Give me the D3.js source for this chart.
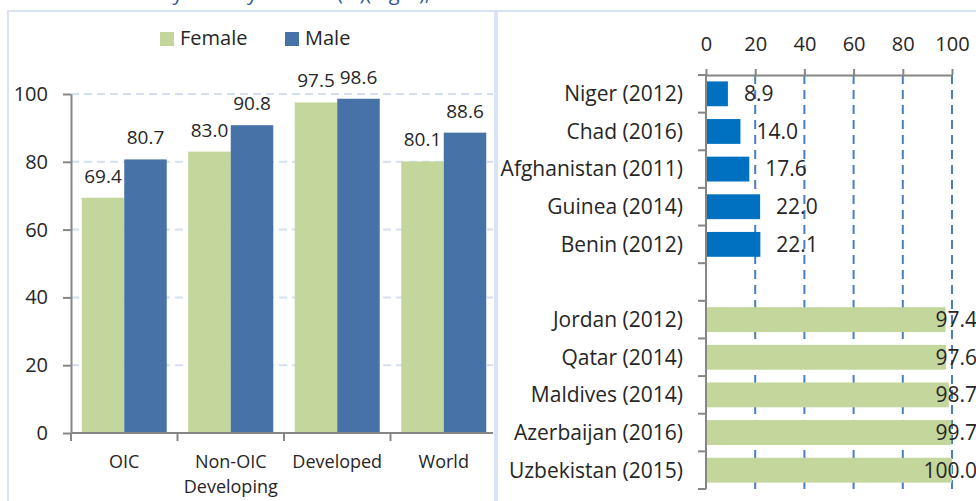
<!DOCTYPE html>
<html>
<head>
<meta charset="utf-8">
<script src="https://cdn.jsdelivr.net/npm/d3@7"></script>
<style>
  body { margin: 0; background: #fff; }
  text { font-family: "Open Sans", "Noto Sans", sans-serif; fill: #262626; }
</style>
</head>
<body>
<script>
// left chart: literacy rate by gender
var groups = ["OIC", "Non-OIC Developing", "Developed", "World"];
var genders = ["Female", "Male"];
var female = [69.4, 83.0, 97.5, 80.1];
var male = [80.7, 90.8, 98.6, 88.6];
var leftTicks = [0, 20, 40, 60, 80, 100];

// right chart: lowest and highest countries
var lowCountries = ["Niger (2012)", "Chad (2016)", "Afghanistan (2011)", "Guinea (2014)", "Benin (2012)"];
var lowValues = [8.9, 14.0, 17.6, 22.0, 22.1];
var highCountries = ["Jordan (2012)", "Qatar (2014)", "Maldives (2014)", "Azerbaijan (2016)", "Uzbekistan (2015)"];
var highValues = [97.4, 97.6, 98.7, 99.7, 100.0];
var rightTicks = [0, 20, 40, 60, 80, 100];

var width = 976, height = 501;
var colors = { Female: "#c3d69b", Male: "#4672a8" };
var lowColor = "#0070c0", highColor = "#c3d69b";
var axisColor = "#868686";
var panelColor = "#dae3f3";

var svg = d3.select("body").append("svg")
  .attr("width", width)
  .attr("height", height);

// cropped title at the very top
svg.append("text")
  .attr("x", 430)
  .attr("y", 0)
  .attr("text-anchor", "end")
  .style("font-size", "20px")
  .style("fill", "#2f5597")
  .text("Adult Literacy Rate by Gender (%)(Right),");

// panel borders
svg.append("path")
  .attr("d", "M8,512 V11 H495 V512")
  .attr("fill", "none")
  .attr("stroke", panelColor)
  .attr("stroke-width", 2);
svg.append("path")
  .attr("d", "M497,512 V11 H990")
  .attr("fill", "none")
  .attr("stroke", panelColor)
  .attr("stroke-width", 2);

// ---------- left chart ----------
var leftData = groups.map(function(g, i) {
  return { group: g, Female: female[i], Male: male[i] };
});

var yL = d3.scaleLinear().domain([0, 100]).range([433, 94]);
var x0 = d3.scaleBand().domain(groups).range([71, 497]).padding(0);
var x1 = d3.scaleBand().domain(genders).range([0, x0.bandwidth()])
  .paddingInner(0).paddingOuter(0.253);

var left = svg.append("g");

left.selectAll(".gridL")
  .data(leftTicks.filter(function(d) { return d > 0; }))
  .enter().append("line")
  .attr("x1", 71).attr("x2", 493)
  .attr("y1", yL).attr("y2", yL)
  .attr("stroke", "#d3def0")
  .attr("stroke-width", 2)
  .attr("stroke-dasharray", "8,5");

var groupSel = left.selectAll(".grp")
  .data(leftData)
  .enter().append("g")
  .attr("transform", function(d) { return "translate(" + x0(d.group) + ",0)"; });

groupSel.selectAll("rect")
  .data(function(d) { return genders.map(function(k) { return { key: k, value: d[k] }; }); })
  .enter().append("rect")
  .attr("x", function(d) { return x1(d.key); })
  .attr("width", x1.bandwidth())
  .attr("y", function(d) { return yL(d.value); })
  .attr("height", function(d) { return yL(0) - yL(d.value); })
  .attr("fill", function(d) { return colors[d.key]; });

groupSel.selectAll(".lbl")
  .data(function(d) { return genders.map(function(k) { return { key: k, value: d[k] }; }); })
  .enter().append("text")
  .attr("x", function(d) { return x1(d.key) + x1.bandwidth() / 2; })
  .attr("y", function(d) { return yL(d.value) - 15; })
  .attr("text-anchor", "middle")
  .style("font-size", "19px")
  .text(function(d) { return d.value.toFixed(1); });

var yAxisL = left.append("g")
  .attr("transform", "translate(71,0)")
  .call(d3.axisLeft(yL).tickValues(leftTicks).tickSize(8).tickSizeOuter(0).tickPadding(15));
yAxisL.select(".domain").attr("stroke", axisColor).attr("stroke-width", 2);
yAxisL.selectAll(".tick line").attr("stroke", axisColor).attr("stroke-width", 2);
yAxisL.selectAll(".tick text")
  .style("font-size", "20px")
  .style("font-family", "'Open Sans', sans-serif")
  .attr("fill", "#262626");

// x axis line with ticks between groups
left.append("line")
  .attr("x1", 71).attr("x2", 493)
  .attr("y1", yL(0)).attr("y2", yL(0))
  .attr("stroke", axisColor).attr("stroke-width", 2);
left.selectAll(".xtick")
  .data(groups)
  .enter().append("line")
  .attr("x1", function(d) { return x0(d); })
  .attr("x2", function(d) { return x0(d); })
  .attr("y1", yL(0)).attr("y2", yL(0) + 8)
  .attr("stroke", axisColor).attr("stroke-width", 2);

// category labels, wrapped when wider than the band
left.selectAll(".cat")
  .data(groups)
  .enter().append("text")
  .attr("x", function(d) { return x0(d) + x0.bandwidth() / 2; })
  .attr("y", yL(0) + 35)
  .attr("text-anchor", "middle")
  .style("font-size", "18px")
  .each(function(d) {
    var t = d3.select(this);
    t.text(d);
    if (this.getComputedTextLength() > x0.bandwidth() - 6) {
      t.text(null);
      var x = t.attr("x");
      d.split(" ").forEach(function(w, i) {
        t.append("tspan").attr("x", x).attr("dy", i === 0 ? 0 : 25).text(w);
      });
    }
  });

// legend
var legend = svg.append("g");
var legendX = [160, 285];
genders.forEach(function(g, i) {
  legend.append("rect")
    .attr("x", legendX[i]).attr("y", 32)
    .attr("width", 14).attr("height", 14)
    .attr("fill", colors[g]);
  legend.append("text")
    .attr("x", legendX[i] + 20).attr("y", 45)
    .style("font-size", "20px")
    .text(g);
});

// ---------- right chart ----------
var rightData = lowCountries.map(function(c, i) {
  return { name: c, value: lowValues[i], color: lowColor };
}).concat([{ name: "", value: null }]).concat(highCountries.map(function(c, i) {
  return { name: c, value: highValues[i], color: highColor };
}));

var xR = d3.scaleLinear().domain([0, 100]).range([706, 952]);
var yR = d3.scaleBand()
  .domain(rightData.map(function(d, i) { return i; }))
  .range([75, 489])
  .paddingInner(0.34)
  .paddingOuter(0.17);

var right = svg.append("g");

right.selectAll(".gridR")
  .data(rightTicks.filter(function(d) { return d > 0; }))
  .enter().append("line")
  .attr("x1", xR).attr("x2", xR)
  .attr("y1", 75).attr("y2", 489)
  .attr("stroke", "#4a7ebf")
  .attr("stroke-width", 2)
  .attr("stroke-dasharray", "9,6");

var withValues = rightData.map(function(d, i) { d.idx = i; return d; })
  .filter(function(d) { return d.value !== null; });

right.selectAll(".barR")
  .data(withValues)
  .enter().append("rect")
  .attr("x", xR(0))
  .attr("y", function(d) { return yR(d.idx); })
  .attr("width", function(d) { return xR(d.value) - xR(0); })
  .attr("height", yR.bandwidth())
  .attr("fill", function(d) { return d.color; });

right.selectAll(".lblR")
  .data(withValues)
  .enter().append("text")
  .attr("y", function(d) { return yR(d.idx) + yR.bandwidth() / 2; })
  .attr("dy", "0.35em")
  .style("font-size", "21px")
  .text(function(d) { return d.value.toFixed(1); })
  .each(function(d) {
    var x = xR(d.value) + 16;
    var w = this.getComputedTextLength();
    if (x + w > 977) x = 977 - w;
    d3.select(this).attr("x", x);
  });

right.selectAll(".nameR")
  .data(withValues)
  .enter().append("text")
  .attr("x", xR(0) - 23)
  .attr("y", function(d) { return yR(d.idx) + yR.bandwidth() / 2; })
  .attr("dy", "0.35em")
  .attr("text-anchor", "end")
  .style("font-size", "21px")
  .text(function(d) { return d.name; });

// y axis line with ticks between categories
right.append("line")
  .attr("x1", xR(0)).attr("x2", xR(0))
  .attr("y1", 75).attr("y2", 489)
  .attr("stroke", axisColor).attr("stroke-width", 2);
right.selectAll(".ytickR")
  .data(d3.range(rightData.length + 1))
  .enter().append("line")
  .attr("x1", xR(0) - 8).attr("x2", xR(0))
  .attr("y1", function(i) { return yR.range()[0] + i * yR.step(); })
  .attr("y2", function(i) { return yR.range()[0] + i * yR.step(); })
  .attr("stroke", axisColor).attr("stroke-width", 2);

var xAxisR = right.append("g")
  .attr("transform", "translate(0,75)")
  .call(d3.axisTop(xR).tickValues(rightTicks).tickSize(6).tickSizeOuter(0).tickPadding(18));
xAxisR.select(".domain").attr("stroke", axisColor).attr("stroke-width", 2);
xAxisR.selectAll(".tick line").attr("stroke", axisColor).attr("stroke-width", 2);
xAxisR.selectAll(".tick text")
  .style("font-size", "20px")
  .style("font-family", "'Open Sans', sans-serif")
  .attr("fill", "#262626");
</script>
</body>
</html>
